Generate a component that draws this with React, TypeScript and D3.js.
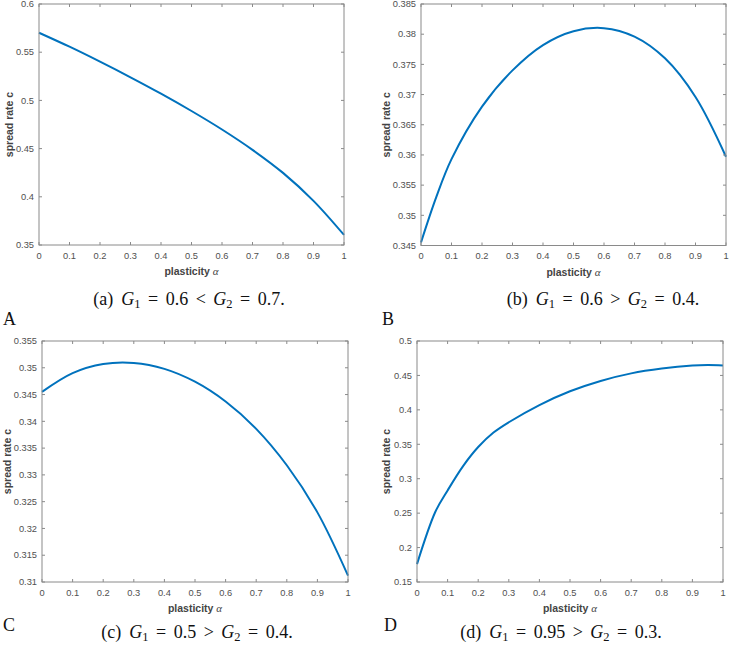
import React from "react";
import * as d3 from "d3";

const alphaA = [0, 0.1, 0.2, 0.3, 0.4, 0.5, 0.6, 0.7, 0.8, 0.9, 1.0];
const rateA = [0.5702, 0.5557, 0.5402, 0.5240, 0.5070, 0.4890, 0.4698, 0.4487, 0.4248, 0.3958, 0.3604];

const alphaB = [0, 0.05, 0.1, 0.2, 0.3, 0.4, 0.5, 0.6, 0.7, 0.8, 0.9, 1.0];
const rateB = [0.3455, 0.3530, 0.3593, 0.3680, 0.3740, 0.3782, 0.3805, 0.3810, 0.3796, 0.3760, 0.3696, 0.3597];

const alphaC = [0, 0.1, 0.2, 0.3, 0.4, 0.5, 0.6, 0.7, 0.8, 0.9, 1.0];
const rateC = [0.3455, 0.3490, 0.3507, 0.3509, 0.3498, 0.3474, 0.3437, 0.3386, 0.3318, 0.3230, 0.3112];

const alphaD = [0, 0.06, 0.1, 0.15, 0.2, 0.25, 0.3, 0.4, 0.5, 0.6, 0.7, 0.8, 0.9, 0.95, 1.0];
const rateD = [0.176, 0.252, 0.283, 0.318, 0.346, 0.367, 0.382, 0.407, 0.427, 0.442, 0.453, 0.460, 0.4643, 0.4650, 0.4645];

const xTicks = [0, 0.1, 0.2, 0.3, 0.4, 0.5, 0.6, 0.7, 0.8, 0.9, 1];
const yTicksA = [0.35, 0.4, 0.45, 0.5, 0.55, 0.6];
const yTicksB = [0.345, 0.35, 0.355, 0.36, 0.365, 0.37, 0.375, 0.38, 0.385];
const yTicksC = [0.31, 0.315, 0.32, 0.325, 0.33, 0.335, 0.34, 0.345, 0.35, 0.355];
const yTicksD = [0.15, 0.2, 0.25, 0.3, 0.35, 0.4, 0.45, 0.5];

const captionLetters = ["a", "b", "c", "d"];
const g1Values = ["0.6", "0.6", "0.5", "0.95"];
const relations = ["<", ">", ">", ">"];
const g2Values = ["0.7", "0.4", "0.4", "0.3"];
const panelLabels = ["A", "B", "C", "D"];

const AXIS = "#8a8a8a";
const TEXT = "#505050";
const LINE = "#0072BD";
const SANS = "'Liberation Sans', Arial, Helvetica, sans-serif";
const SERIF = "'Liberation Serif', 'DejaVu Serif', serif";

type PanelProps = {
  x0: number; x1: number; y0: number; y1: number;
  xs: number[]; ys: number[]; yTicks: number[];
  ylabelOffset: number; digits: number;
};

function Panel(p: PanelProps) {
  const x = d3.scaleLinear().domain([0, 1]).range([p.x0, p.x1]);
  const yDom = [p.yTicks[0], p.yTicks[p.yTicks.length - 1]];
  const y = d3.scaleLinear().domain(yDom).range([p.y1, p.y0]);
  const pts = p.xs.map((a, i) => [a, p.ys[i]] as [number, number]);
  const line = d3.line<[number, number]>()
    .x((d) => x(d[0]))
    .y((d) => y(d[1]))
    .curve(d3.curveCatmullRom.alpha(0.5));
  const tl = 3;
  const fmtY = (v: number) => String(parseFloat(v.toFixed(p.digits)));
  return (
    <g>
      <path d={line(pts) || ""} fill="none" stroke={LINE} strokeWidth={2} />
      <rect x={p.x0} y={p.y0} width={p.x1 - p.x0} height={p.y1 - p.y0} fill="none" stroke={AXIS} strokeWidth={1} />
      {xTicks.map((t) => (
        <g key={"x" + t}>
          <line x1={x(t)} x2={x(t)} y1={p.y1} y2={p.y1 - tl} stroke={AXIS} />
          <line x1={x(t)} x2={x(t)} y1={p.y0} y2={p.y0 + tl} stroke={AXIS} />
          <text x={x(t)} y={p.y1 + 13.5} textAnchor="middle" fontFamily={SANS} fontSize={9.3} fill={TEXT}>{String(t)}</text>
        </g>
      ))}
      {p.yTicks.map((t) => (
        <g key={"y" + t}>
          <line x1={p.x0} x2={p.x0 + tl} y1={y(t)} y2={y(t)} stroke={AXIS} />
          <line x1={p.x1} x2={p.x1 - tl} y1={y(t)} y2={y(t)} stroke={AXIS} />
          <text x={p.x0 - 5} y={y(t)} dy="0.35em" textAnchor="end" fontFamily={SANS} fontSize={9.3} fill={TEXT}>{fmtY(t)}</text>
        </g>
      ))}
      <text x={(p.x0 + p.x1) / 2} y={p.y1 + 30} textAnchor="middle" fontFamily={SANS} fontSize={10.5} fontWeight="bold" fill="#444">
        plasticity <tspan fontFamily={SERIF} fontStyle="italic" fontWeight="normal" fontSize={11}>α</tspan>
      </text>
      <text transform={`translate(${p.x0 - p.ylabelOffset},${(p.y0 + p.y1) / 2}) rotate(-90)`} textAnchor="middle" dy="0.35em" fontFamily={SANS} fontSize={10.5} fontWeight="bold" fill="#444">
        spread rate c
      </text>
    </g>
  );
}

function Caption({ cx, y, i }: { cx: number; y: number; i: number }) {
  const gap = 7.5;
  const sub = 3;
  return (
    <text x={cx} y={y} textAnchor="middle" fontFamily={SERIF} fontSize={18} fill="#111">
      <tspan>({captionLetters[i]})</tspan>
      <tspan dx={8} fontStyle="italic">G</tspan>
      <tspan fontSize={12.5} dy={sub}>1</tspan>
      <tspan dy={-sub} dx={gap}>=</tspan>
      <tspan dx={gap}>{g1Values[i]}</tspan>
      <tspan dx={gap}>{relations[i]}</tspan>
      <tspan dx={gap} fontStyle="italic">G</tspan>
      <tspan fontSize={12.5} dy={sub}>2</tspan>
      <tspan dy={-sub} dx={gap}>=</tspan>
      <tspan dx={gap}>{g2Values[i] + "."}</tspan>
    </text>
  );
}

export default function App() {
  return (
    <svg width={729} height={646} style={{ position: "absolute", left: 0, top: 0, background: "#fff" }}>
      <rect width={729} height={646} fill="#fff" />
      <Panel x0={39} x1={344} y0={4} y1={245} xs={alphaA} ys={rateA} yTicks={yTicksA} ylabelOffset={30} digits={2} />
      <Panel x0={421} x1={726} y0={4} y1={245.5} xs={alphaB} ys={rateB} yTicks={yTicksB} ylabelOffset={35} digits={3} />
      <Panel x0={42} x1={348} y0={341} y1={582} xs={alphaC} ys={rateC} yTicks={yTicksC} ylabelOffset={35} digits={3} />
      <Panel x0={417} x1={723} y0={341} y1={582} xs={alphaD} ys={rateD} yTicks={yTicksD} ylabelOffset={30.5} digits={2} />
      <Caption cx={189} y={305} i={0} />
      <Caption cx={603} y={305} i={1} />
      <Caption cx={197} y={638} i={2} />
      <Caption cx={561} y={638} i={3} />
      <text x={3} y={325} fontFamily={SERIF} fontSize={18} fill="#111">{panelLabels[0]}</text>
      <text x={382} y={325} fontFamily={SERIF} fontSize={18} fill="#111">{panelLabels[1]}</text>
      <text x={3} y={631} fontFamily={SERIF} fontSize={18} fill="#111">{panelLabels[2]}</text>
      <text x={384} y={631} fontFamily={SERIF} fontSize={18} fill="#111">{panelLabels[3]}</text>
    </svg>
  );
}
